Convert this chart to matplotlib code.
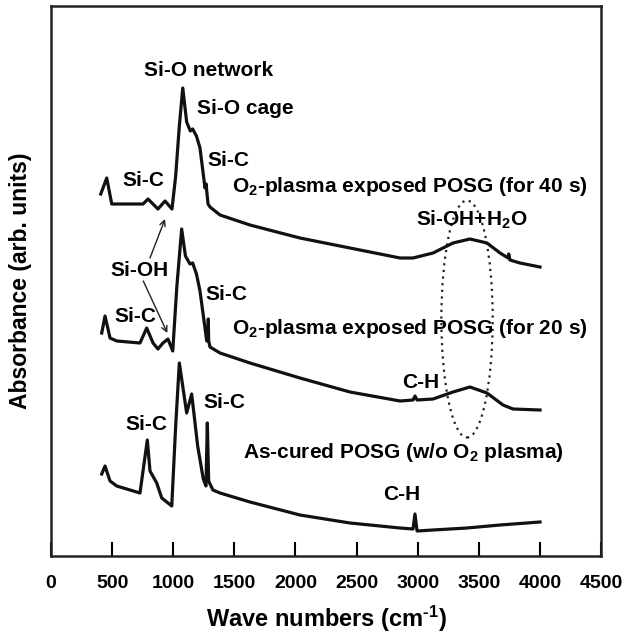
import matplotlib.pyplot as plt
from matplotlib.patches import Ellipse

plt.rcParams['font.family'] = ['Liberation Sans', 'DejaVu Sans']
plt.rcParams['font.weight'] = 'bold'
plt.rcParams['axes.labelweight'] = 'bold'
plt.rcParams['axes.unicode_minus'] = False
plt.rcParams['mathtext.fontset'] = 'custom'
plt.rcParams['mathtext.rm'] = 'Liberation Sans:bold'
plt.rcParams['mathtext.it'] = 'Liberation Sans:bold'
plt.rcParams['mathtext.bf'] = 'Liberation Sans:bold'
plt.rcParams['mathtext.default'] = 'rm'

# O2 plasma 40 s (wave number, absorbance in arb. units)
wn_40 = [407, 456, 497, 538, 753, 794, 875, 933, 990, 1020, 1050, 1078, 1110,
         1140, 1159, 1190, 1219, 1260, 1270, 1274, 1285, 1301, 1383, 1628, 2037,
         2446, 2856, 2962, 3126, 3289, 3428, 3567, 3674, 3740, 3745, 3755, 3837,
         4001]
ab_40 = [362, 378, 352, 352, 352, 357, 347, 355, 347, 380, 430, 468, 434,
         425, 427, 420, 408, 368, 372, 365, 352, 349, 341, 331, 318,
         308, 298, 298, 303, 313, 317, 313, 303, 298, 302, 296, 293,
         289]

# O2 plasma 20 s
wn_20 = [415, 442, 483, 538, 728, 783, 835, 875, 916, 957, 996, 1030, 1069,
         1100, 1137, 1159, 1190, 1219, 1260, 1274, 1285, 1287, 1290, 1301, 1383,
         1628, 2037, 2446, 2856, 2962, 2978, 2995, 3126, 3289, 3428, 3567, 3698,
         3780, 4001]
ab_20 = [223, 240, 218, 215, 213, 228, 213, 207, 213, 217, 205, 270, 327,
         300, 292, 293, 282, 265, 228, 215, 222, 237, 215, 209, 203,
         193, 178, 164, 155, 156, 160, 156, 157, 164, 169, 163, 151,
         147, 146]

# As-cured POSG
wn_0 = [415, 442, 483, 538, 728, 788, 810, 865, 906, 988, 1020, 1050, 1110,
        1151, 1200, 1246, 1268, 1279, 1290, 1301, 1325, 1383, 1628, 2037, 2446,
        2856, 2962, 2978, 2995, 3126, 3404, 3674, 4001]
ab_0 = [82, 90, 75, 70, 63, 116, 85, 73, 58, 50, 130, 193, 143,
        162, 110, 77, 70, 133, 75, 72, 66, 63, 54, 41, 33,
        28, 27, 42, 25, 26, 28, 31, 34]

fig = plt.figure(figsize=(6.26, 6.36), dpi=100)
ax = fig.add_axes([51 / 626, 1 - 556 / 636, 550 / 626, 550 / 636])

for wn, ab in [(wn_40, ab_40), (wn_20, ab_20), (wn_0, ab_0)]:
    ax.plot(wn, ab, color='#111111', lw=2.3, solid_joinstyle='round')

ax.add_patch(Ellipse((3404, 237), 420, 237, fill=False, ls=(0, (1, 2)),
                     lw=1.6, color='#222222'))

fs = 15
ax.text(1293, 486, 'Si-O network', fontsize=fs, ha='center', va='center')
ax.text(1195, 447, 'Si-O cage', fontsize=fs, ha='left', va='center')
ax.text(1276, 396, 'Si-C', fontsize=fs, ha='left', va='center')
ax.text(753, 375, 'Si-C', fontsize=fs, ha='center', va='center')
ax.text(1481, 370, 'O$_2$-plasma exposed POSG (for 40 s)', fontsize=fs,
        ha='left', va='center')
ax.text(3445, 336, 'Si-OH+H$_2$O', fontsize=fs, ha='center', va='center')
ax.text(728, 285, 'Si-OH', fontsize=fs, ha='center', va='center')
ax.text(687, 240, 'Si-C', fontsize=fs, ha='center', va='center')
ax.text(1260, 261, 'Si-C', fontsize=fs, ha='left', va='center')
ax.text(1481, 228, 'O$_2$-plasma exposed POSG (for 20 s)', fontsize=fs,
        ha='left', va='center')
ax.text(3027, 174, 'C-H', fontsize=fs, ha='center', va='center')
ax.text(1571, 103, 'As-cured POSG (w/o O$_2$ plasma)', fontsize=fs,
        ha='left', va='center')
ax.text(777, 132, 'Si-C', fontsize=fs, ha='center', va='center')
ax.text(1415, 154, 'Si-C', fontsize=fs, ha='center', va='center')
ax.text(2872, 61, 'C-H', fontsize=fs, ha='center', va='center')

arrow = dict(arrowstyle='->', lw=1.0, color='#222222', shrinkA=0, shrinkB=0)
ax.annotate('', xy=(933, 337), xytext=(810, 298), arrowprops=arrow)
ax.annotate('', xy=(952, 223), xytext=(755, 275), arrowprops=arrow)

ax.set_xlim(0, 4500)
ax.set_ylim(0, 550)
ax.set_xticks(range(0, 4501, 500))
ax.set_yticks([])
ax.tick_params(axis='x', direction='in', length=10, width=1.5, labelsize=14,
               pad=14)
for lab in ax.get_xticklabels():
    lab.set_fontweight('bold')
for s in ax.spines.values():
    s.set_linewidth(1.8)
    s.set_color('#222222')

ax.set_xlabel(r'Wave numbers (cm$^{\text{-1}}$)', fontsize=17, labelpad=8)
ax.set_ylabel('Absorbance (arb. units)', fontsize=16.5, labelpad=14)

fig.savefig('out.png', dpi=100)
